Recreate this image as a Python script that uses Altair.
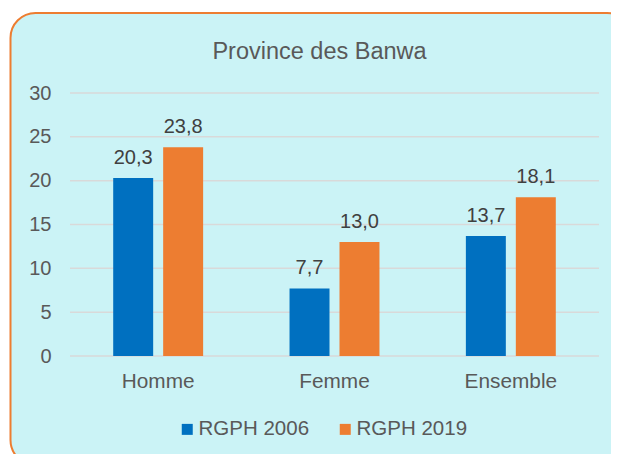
import altair as alt
import pandas as pd

categories = ["Homme", "Femme", "Ensemble"]
series = ["RGPH 2006", "RGPH 2019"]
values_2006 = [20.3, 7.7, 13.7]
values_2019 = [23.8, 13.0, 18.1]
y_ticks = [0, 5, 10, 15, 20, 25, 30]

rows = []
for c, a, b in zip(categories, values_2006, values_2019):
    rows.append({"cat": c, "serie": series[0], "val": a})
    rows.append({"cat": c, "serie": series[1], "val": b})
df = pd.DataFrame(rows)
df["label"] = df["val"].map(lambda v: f"{v:.1f}".replace(".", ","))

FONT = "Liberation Sans"
W, H = 529, 263

yscale = alt.Scale(domain=[0, 30], nice=False, zero=True)
xscale = alt.Scale(domain=categories, paddingInner=0.49, paddingOuter=0.245)
xoff = alt.Scale(domain=series, paddingInner=0.2, paddingOuter=0)
cscale = alt.Scale(domain=series, range=["#0070C0", "#ED7D31"])

yaxis = alt.Axis(values=y_ticks, title=None, grid=False, domain=False, ticks=False,
                 tickSize=0, labelPadding=19, labelFontSize=20, labelColor="#595959",
                 labelFont=FONT, zindex=1)
xaxis = alt.Axis(title=None, grid=False, domain=False, ticks=False, tickSize=0,
                 labelPadding=15, labelFontSize=20.8, labelColor="#595959",
                 labelFont=FONT, labelAngle=0, zindex=1)

bg = alt.Chart(pd.DataFrame({"k": [0]})).mark_rect(
    fill="#CBF3F6", stroke="#ED7D31", strokeWidth=2, cornerRadius=25
).encode(x=alt.value(-59.5), x2=alt.value(562), y=alt.value(-80), y2=alt.value(372))

grid = alt.Chart(pd.DataFrame({"t": y_ticks})).mark_rule(
    color="#D9D9D9", strokeWidth=1.5
).encode(y=alt.Y("t:Q", scale=yscale, axis=yaxis))

bars = alt.Chart(df).mark_bar().encode(
    x=alt.X("cat:N", scale=xscale, sort=categories, axis=xaxis),
    xOffset=alt.XOffset("serie:N", scale=xoff, sort=series),
    y=alt.Y("val:Q", scale=yscale, axis=yaxis),
    color=alt.Color("serie:N", scale=cscale, legend=alt.Legend(
        title=None, orient="none", legendX=107, legendY=326, direction="horizontal",
        symbolType="square", symbolSize=121, symbolStrokeWidth=0,
        labelFontSize=20.5, labelColor="#595959", labelFont=FONT, labelOffset=1,
        columnPadding=25, padding=0, rowPadding=0)),
)

text = alt.Chart(df).mark_text(
    dy=-14, baseline="alphabetic", fontSize=20, color="#404040", font=FONT
).encode(
    x=alt.X("cat:N", scale=xscale, sort=categories, axis=xaxis),
    xOffset=alt.XOffset("serie:N", scale=xoff, sort=series),
    y=alt.Y("val:Q", scale=yscale, axis=yaxis),
    text="label:N",
)

chart = alt.layer(bg, grid, bars, text).properties(
    width=W, height=H,
    title=alt.Title("Province des Banwa", fontSize=23.5, color="#595959", font=FONT,
                    fontWeight="normal", anchor="middle", frame="group", dx=-15,
                    baseline="alphabetic", offset=-70),
    padding={"left": 62, "top": 85, "right": 12, "bottom": 98},
    autosize=alt.AutoSizeParams(type="none"),
).configure(background="white", font=FONT).configure_view(stroke=None)

chart.save("out.html", embed_options={"renderer": "svg", "actions": False})
